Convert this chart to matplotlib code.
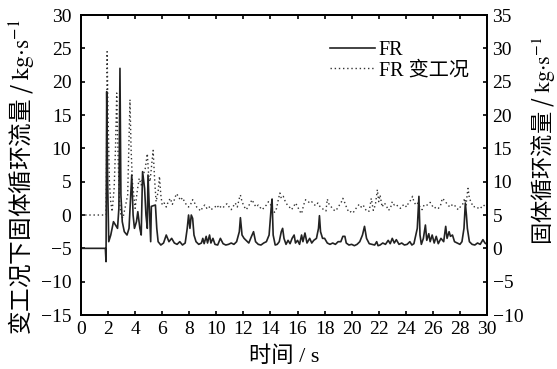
import numpy as np
import matplotlib
matplotlib.use('Agg')
import matplotlib.pyplot as plt

plt.rcParams['font.family'] = ['Liberation Serif', 'Noto Sans CJK SC']
plt.rcParams['mathtext.fontset'] = 'stix'
plt.rcParams['axes.unicode_minus'] = True

# FR (right axis, kg/s)
t_fr = [0.0, 1.8, 1.85, 1.9, 1.97, 2.05, 2.2, 2.4, 2.55, 2.7, 2.8, 2.88, 2.95, 3.05, 3.2, 3.4, 3.55, 3.7, 3.75, 3.85,
        3.95, 4.1, 4.2, 4.35, 4.45, 4.55, 4.7, 4.8, 4.9, 4.95, 5.05, 5.15, 5.2, 5.5, 5.6, 5.7, 5.9, 6.1, 6.3, 6.5,
        6.7, 6.9, 7.1, 7.3, 7.5, 7.7, 7.85, 7.95, 8.05, 8.15, 8.25, 8.35, 8.5, 8.7, 8.9, 9.0, 9.1, 9.25, 9.35, 9.5,
        9.6, 9.75, 9.9, 10.1, 10.3, 10.5, 10.7, 10.9, 11.1, 11.3, 11.5, 11.7, 11.78, 11.9, 12.05, 12.2, 12.4, 12.6, 12.75, 12.9,
        13.1, 13.3, 13.5, 13.7, 13.9, 14.05, 14.12, 14.2, 14.35, 14.5, 14.65, 14.8, 14.9, 15.0, 15.15, 15.3, 15.45, 15.6, 15.75, 15.85,
        16.0, 16.15, 16.3, 16.4, 16.55, 16.7, 16.9, 17.05, 17.2, 17.4, 17.55, 17.62, 17.7, 17.85, 18.0, 18.2, 18.4, 18.6, 18.8, 19.0,
        19.2, 19.35, 19.5, 19.6, 19.8, 20.0, 20.2, 20.4, 20.6, 20.8, 20.95, 21.1, 21.3, 21.5, 21.7, 21.85, 21.95, 22.1, 22.3, 22.5,
        22.7, 22.85, 23.0, 23.15, 23.3, 23.5, 23.7, 23.9, 24.1, 24.3, 24.45, 24.6, 24.85, 24.97, 25.05, 25.15, 25.3, 25.45, 25.55, 25.7,
        25.8, 25.95, 26.1, 26.25, 26.4, 26.6, 26.8, 26.95, 27.05, 27.2, 27.3, 27.45, 27.6, 27.8, 28.0, 28.15, 28.3, 28.4, 28.48, 28.55,
        28.7, 28.9, 29.1, 29.3, 29.5, 29.7, 29.85, 30.0]
fr = [0, 0, -2, 23.5, 10, 1, 2, 4, 3.5, 3, 6, 27, 8, 4, 2.5, 2, 3, 9, 11, 5,
      3, 4, 5.5, 3, 2, 11.5, 9, 5, 3, 11, 6, 1, 6.3, 6.5, 3, 1, 0.5, 0.8, 2, 1,
      1.5, 0.8, 0.6, 1, 0.5, 0.8, 3, 5, 3, 5, 4.5, 2, 1, 0.6, 0.8, 1.5, 0.7, 1.8, 0.8, 2,
      0.8, 1.5, 0.6, 0.5, 1.5, 0.7, 0.5, 0.6, 0.8, 0.6, 1, 2.5, 4.6, 2, 1.5, 1.2, 0.8, 1.8, 2.5, 1,
      0.6, 0.5, 0.8, 1, 2, 6, 7.4, 2, 0.5, 0.6, 1, 2.5, 3, 1.5, 0.6, 1.2, 0.7, 1.5, 2, 0.8,
      1.2, 0.6, 2, 1, 2.3, 0.8, 1.5, 0.8, 1.2, 1.5, 3, 4.9, 2.5, 1.5, 1.5, 0.8, 0.6, 0.8, 0.6, 1,
      1, 1.8, 1.8, 0.8, 0.5, 0.6, 0.4, 0.6, 1, 2, 3.3, 1.5, 0.7, 0.6, 0.5, 1, 0.4, 0.5, 0.8, 0.6,
      1.2, 0.7, 1.5, 0.8, 1.3, 0.6, 0.8, 0.5, 0.6, 1, 0.5, 0.7, 3, 7.8, 2, 0.6, 1.5, 3.5, 1.2, 2.2,
      1, 2, 0.8, 1.8, 0.7, 1.5, 1, 3.3, 1.5, 2.5, 1.8, 2, 1, 0.8, 0.6, 1, 3, 6.8, 5, 3,
      1, 0.6, 0.5, 0.8, 0.6, 1.3, 0.8, 0.6]

# FR 变工况 (left axis, kg/s)
t_var = [0, 1.85, 1.88, 1.93, 2.0, 2.1, 2.2, 2.3, 2.45, 2.55, 2.64, 2.75, 2.85, 2.95, 3.1, 3.25, 3.45, 3.62, 3.7, 3.8,
         3.9, 4.0, 4.15, 4.3, 4.45, 4.6, 4.75, 4.9, 5.0, 5.1, 5.2, 5.33, 5.45, 5.55, 5.7, 5.8, 5.9, 6.0, 6.15, 6.3,
         6.45, 6.6, 6.75, 6.9, 7.05, 7.2, 7.35, 7.5, 7.65, 7.8, 7.95, 8.1, 8.25, 8.4, 8.55, 8.7, 8.85, 9.0, 9.15, 9.3,
         9.45, 9.6, 9.75, 9.9, 10.05, 10.2, 10.35, 10.5, 10.65, 10.8, 10.95, 11.1, 11.25, 11.4, 11.55, 11.7, 11.78, 11.9, 12.05, 12.2,
         12.35, 12.5, 12.65, 12.8, 12.95, 13.1, 13.25, 13.4, 13.55, 13.7, 13.85, 14.0, 14.15, 14.3, 14.45, 14.6, 14.7, 14.8, 14.95, 15.1,
         15.25, 15.4, 15.55, 15.7, 15.85, 16.0, 16.15, 16.3, 16.45, 16.6, 16.75, 16.9, 17.05, 17.2, 17.35, 17.5, 17.65, 17.8, 17.95, 18.1,
         18.2, 18.35, 18.5, 18.65, 18.8, 18.95, 19.1, 19.25, 19.35, 19.5, 19.65, 19.8, 19.95, 20.1, 20.25, 20.4, 20.55, 20.7, 20.85, 21.0,
         21.15, 21.3, 21.45, 21.6, 21.75, 21.9, 22.0, 22.1, 22.25, 22.4, 22.55, 22.7, 22.85, 23.0, 23.15, 23.3, 23.45, 23.6, 23.75, 23.9,
         24.05, 24.2, 24.35, 24.5, 24.6, 24.75, 24.9, 25.05, 25.2, 25.35, 25.5, 25.65, 25.8, 25.95, 26.1, 26.25, 26.4, 26.55, 26.7, 26.85,
         27.0, 27.15, 27.3, 27.45, 27.6, 27.75, 27.9, 28.05, 28.2, 28.35, 28.45, 28.55, 28.6, 28.7, 28.85, 29.0, 29.15, 29.3, 29.45, 29.6,
         29.75, 29.9, 30.0]
fr_var = [0, 0, 5, 24.5, 15, 5, 2, 0.5, 4, 10, 18.3, 8, 2, 0, -0.5, 1, 3, 17.3, 10, 5,
          3, 1, 3.5, 5.5, 4.5, 6, 7, 9.2, 6, 5, 7, 9.7, 5, 2, 3.5, 5.8, 3, 1.5, 1.8, 1.2,
          2, 2.5, 1.6, 2.3, 3.2, 2.8, 2.2, 2.6, 2, 1.5, 1.2, 1.6, 2.3, 1.8, 1.2, 0.9, 0.6, 1.2, 1.5, 1,
          1.3, 0.8, 1, 1.2, 1.5, 1, 1.3, 1.1, 1.5, 1.7, 1.2, 0.8, 1.3, 1.8, 1.2, 2.5, 3, 2, 1.3, 0.8,
          1.2, 1.8, 2.3, 1.6, 1.2, 1.5, 1.1, 0.8, 1.2, 1.5, 2, 1.6, 0.8, 0.4, 1, 2.5, 3.3, 2.5, 2.8, 2,
          1.5, 1.2, 0.8, 1.2, 1.8, 1.3, 0.6, 0.2, 1.5, 2.3, 2.1, 1.8, 2, 1.6, 1.4, 1.8, 1.3, 1, 0.8, 0.6,
          2.4, 1.5, 1.2, 0.8, 0.6, 1, 1.5, 2, 2.5, 1.8, 1, 0.4, 0.5, 0.3, 0.8, 1.2, 1.6, 1.2, 1.5, 0.9,
          0.5, 0.6, 2.5, 0.7, 1.5, 3.8, 2, 3, 1.2, 1.8, 1.5, 0.7, 0.9, 2, 1.5, 1.6, 1.2, 1, 1.4, 1.6,
          1.2, 1.8, 2.2, 2.8, 2, 1.5, 1.8, 1.2, 0.8, 1.5, 1.4, 1.6, 1.9, 1.4, 1, 1.2, 1, 1.3, 2.5, 2.2,
          1.8, 1.4, 1.2, 1.6, 1.5, 1, 0.8, 1.3, 1.6, 2.5, 1.5, 3.3, 4, 2.5, 1.8, 1.2, 1.3, 1.1, 0.9, 1.2,
          1.5, 1.2, 1.4]

fig = plt.figure(figsize=(5.57, 3.69), dpi=100)
ax = fig.add_axes([0.1454, 0.1463, 0.7289, 0.813])
ax2 = ax.twinx()

l2, = ax.plot(t_var, fr_var, color='#333333', lw=1.0, linestyle=(0, (1, 2)))
l1, = ax2.plot(t_fr, fr, color='#222222', lw=1.2)

ax.set_xlim(0, 30)
ax.set_ylim(-15, 30)
ax2.set_ylim(-10, 35)
ax.set_xticks(np.arange(0, 31, 2))
ax.set_yticks(np.arange(-15, 31, 5))
ax2.set_yticks(np.arange(-10, 36, 5))

ax.tick_params(axis='x', direction='in', top=True, length=3, width=1.2, labelsize=14, pad=4)
ax.tick_params(axis='y', direction='in', length=3, width=1.2, labelsize=14, pad=7)
ax2.tick_params(axis='y', direction='in', length=3, width=1.2, labelsize=14, pad=4)
for a in (ax, ax2):
    for s in a.spines.values():
        s.set_linewidth(1.3)

cjk = ['Noto Sans CJK SC', 'Liberation Serif']
unit = r' / $\mathrm{kg{\cdot}s}^{-1}$'
ax.set_xlabel('时间 / s', fontsize=16, labelpad=6)
ax.set_ylabel('变工况下固体循环流量' + unit, fontsize=17, family=cjk)
ax2.set_ylabel('固体循环流量' + unit, fontsize=16, family=cjk)
ax.yaxis.set_label_coords(-0.112, 0.46)
ax2.yaxis.set_label_coords(1.104, 0.58)

ax.legend([l1, l2], ['FR', 'FR 变工况'], loc='upper right', bbox_to_anchor=(0.975, 0.94),
          frameon=False, fontsize=14.5, handlelength=2.2, handletextpad=0.2,
          labelspacing=0.05, borderaxespad=0)

fig.savefig('out.png', dpi=100)
